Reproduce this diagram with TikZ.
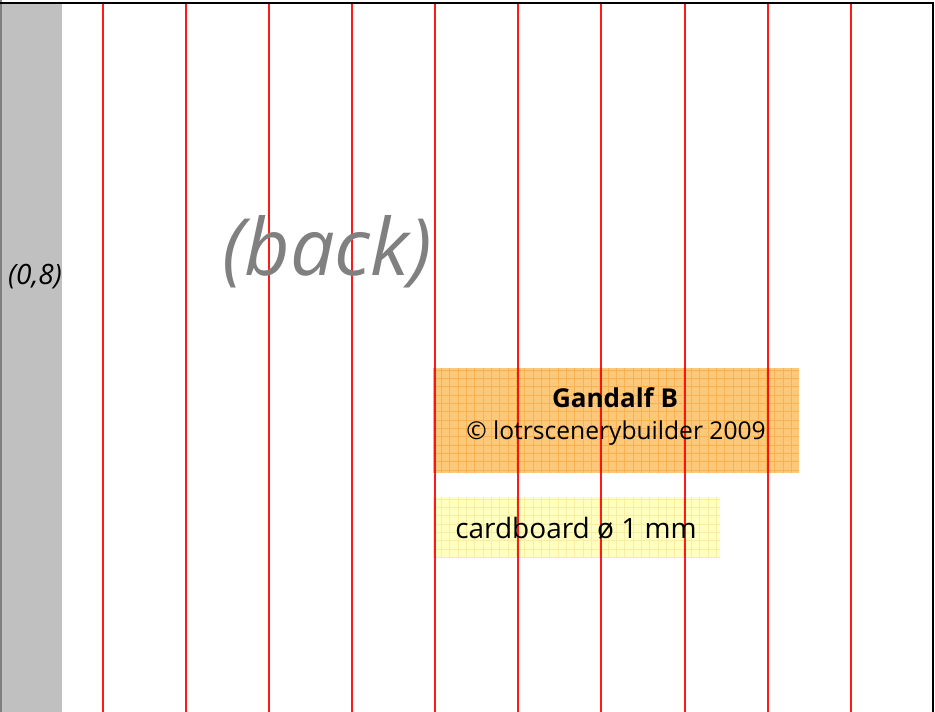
\documentclass[tikz,border=0pt]{standalone}
\usepackage{fontspec}
\setmainfont{Open Sans}
\definecolor{stripgray}{RGB}{192,192,192}
\definecolor{boxorange}{RGB}{252,200,122}
\definecolor{gridorange}{RGB}{250,178,80}
\definecolor{boxyellow}{RGB}{255,255,192}
\definecolor{gridyellow}{RGB}{250,236,160}
\definecolor{backgray}{RGB}{128,128,128}
\tikzset{
  redline/.style={draw=red, line width=2.5pt, opacity=0.9},
  lbl/.style={inner sep=0pt, anchor=center, text=black},
}
\begin{document}
\begin{tikzpicture}[x=1pt,y=-1pt]
\useasboundingbox (0,0) rectangle (935,712);
\fill[white] (0,0) rectangle (935,712);
% gray strip
\fill[stripgray] (1,4) rectangle (62,712);
\draw[backgray, line width=1.5pt] (0.75,0) -- (0.75,712);
% boxes
\fill[boxorange] (433,368) rectangle (799,473);
\begin{scope}
\clip (433,368) rectangle (799,473);
\foreach \i in {0,...,45} { \draw[gridorange, line width=0.5pt] ({433+\i*8.33},368) -- ({433+\i*8.33},473); }
\foreach \j in {0,...,13} { \draw[gridorange, line width=0.5pt] (433,{370+\j*8.33}) -- (799,{370+\j*8.33}); }
\end{scope}
\fill[boxyellow] (433,497) rectangle (720,557);
\begin{scope}
\clip (433,497) rectangle (720,557);
\foreach \i in {0,...,36} { \draw[gridyellow, line width=0.5pt] ({433+\i*8.33},497) -- ({433+\i*8.33},557); }
\foreach \j in {0,...,8} { \draw[gridyellow, line width=0.5pt] (433,{499+\j*8.33}) -- (720,{499+\j*8.33}); }
\end{scope}
% red lines
\foreach \x in {103,186,269,352,435,518,601,685,768,851} {
  \draw[redline] (\x,4) -- (\x,712);
}
% borders
\draw[black, line width=2.2pt] (0,3) -- (934,3);
\draw[black, line width=2pt] (933,3) -- (933,712);
% texts
\node[lbl, text=backgray, font=\itshape\fontsize{79}{84}\selectfont] (back) at (327,252) {(back)};
\node[lbl, font=\itshape\fontsize{28}{30}\selectfont] (coord) at (35,277) {(0,8)};
\node[lbl, font=\bfseries\fontsize{26}{28}\selectfont] (title) at (615,398) {Gandalf B};
\node[lbl, font=\fontsize{24.6}{27}\selectfont] (copy) at (616,433) {© lotrscenerybuilder 2009};
\node[lbl, font=\fontsize{28}{30}\selectfont] (mat) at (576,528) {cardboard ø 1 mm};
\end{tikzpicture}
\end{document}
